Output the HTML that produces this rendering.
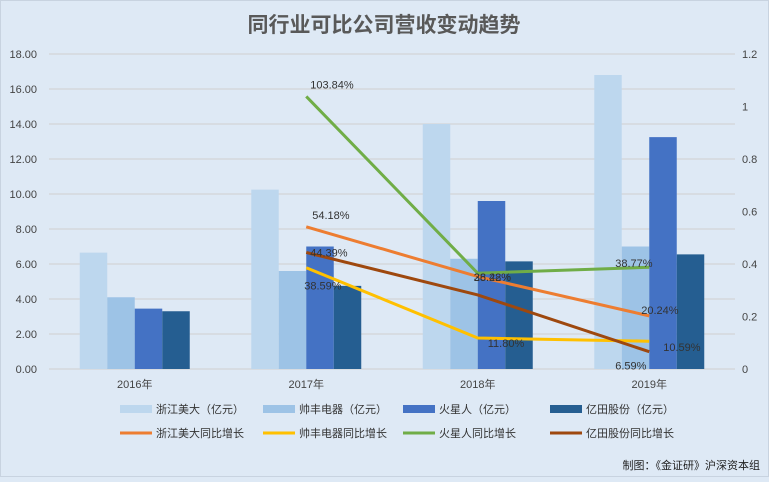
<!DOCTYPE html>
<html><head><meta charset="utf-8"><style>
body{margin:0;width:769px;height:477px;background:#dee9f5;font-family:"Liberation Sans","Noto Sans CJK SC",sans-serif;overflow:hidden}
svg text{font-family:"Liberation Sans","Noto Sans CJK SC",sans-serif}
</style></head><body>
<svg id="c" width="769" height="477">
<rect x="0.5" y="0.5" width="768" height="476" fill="#dee9f5" stroke="#c8d3e0"/>
<text x="384" y="32" text-anchor="middle" font-size="21" font-weight="bold" fill="#595959">同行业可比公司营收变动趋势</text>
<g id="grid"></g><g id="bars"></g><g id="lines"></g><g id="legend"></g>
<text x="760" y="469" text-anchor="end" font-size="11" fill="#222">制图：《金证研》沪深资本组</text>
</svg>
<script>
const categories=["2016年","2017年","2018年","2019年"];
const barNames=["浙江美大（亿元）","帅丰电器（亿元）","火星人（亿元）","亿田股份（亿元）"];
const barColors=["#bdd7ee","#9dc3e6","#4472c4","#255e91"];
const zjmd=[6.65,10.25,14.0,16.8];
const sfdq=[4.1,5.6,6.3,7.0];
const hxr=[3.45,7.0,9.6,13.25];
const ytgf=[3.3,4.75,6.15,6.55];
const lineNames=["浙江美大同比增长","帅丰电器同比增长","火星人同比增长","亿田股份同比增长"];
const lineColors=["#ed7d31","#ffc000","#70ad47","#9e480e"];
const zjmdG=[null,0.5418,0.352,0.2024];
const sfdqG=[null,0.3859,0.1180,0.1059];
const hxrG=[null,1.0384,0.3648,0.3877];
const ytgfG=[null,0.4439,0.2822,0.0659];
const leftTicks=["0.00","2.00","4.00","6.00","8.00","10.00","12.00","14.00","16.00","18.00"];
const rightTicks=["0","0.2","0.4","0.6","0.8","1","1.2"];
const NS="http://www.w3.org/2000/svg";
const L=49,R=735,T=54,B=369;
const yL=v=>B-(v/18)*(B-T), yR=v=>B-(v/1.2)*(B-T);
const cw=(R-L)/categories.length, bw=27.5;
const xc=i=>L+cw*(i+0.5);
function mk(tag,at,p){const e=document.createElementNS(NS,tag);for(const k in at)e.setAttribute(k,at[k]);p.appendChild(e);return e;}
const g=document.getElementById('grid');
leftTicks.forEach((t,i)=>{const y=yL(i*2);
 const ln=mk('line',{x1:L,x2:R,y1:y,y2:y,stroke:'#d0d0d0','stroke-width':1},g);
 
 
 const tx=mk('text',{x:37,y:y+4,'text-anchor':'end','font-size':11,fill:'#444'},g);tx.textContent=t;
 
 });
rightTicks.forEach((t,i)=>{const y=yR(i*0.2);
 const tx=mk('text',{x:742,y:y+4,'font-size':11,fill:'#444'},g);tx.textContent=t;
 
 });
categories.forEach((c,i)=>{const tx=mk('text',{x:xc(i),y:388,'text-anchor':'middle','font-size':11,fill:'#444'},g);tx.textContent=c;
 
 });
const bg=document.getElementById('bars');
[zjmd,sfdq,hxr,ytgf].forEach((s,k)=>s.forEach((v,i)=>{
 const x=xc(i)-2*bw+k*bw;
 const r=mk('rect',{x:x,y:yL(v),width:bw,height:B-yL(v),fill:barColors[k]},bg);
 
 }));
const lg=document.getElementById('lines');
const labelOff=[[0,[[6,-12],[0,0],[-8,-6]]],[1,[[-2,18],[10,5],[14,6]]],[2,[[4,-12],[-4,4],[-34,-4]]],[3,[[4,0],[-4,-18],[-34,14]]]];
[zjmdG,sfdqG,hxrG,ytgfG].forEach((s,k)=>{
 let pts=[];s.forEach((v,i)=>{if(v!==null)pts.push([xc(i),yR(v),v]);});
 const pl=mk('polyline',{points:pts.map(p=>p[0]+','+p[1]).join(' '),fill:'none',stroke:lineColors[k],'stroke-width':3},lg);
 
 
 pts.forEach((p,j)=>{const o=labelOff[k][1][j];
  if(k===0&&j===1)return;
  const tx=mk('text',{x:p[0]+o[0],y:p[1]+o[1]+4,'font-size':11,fill:'#333'},lg);tx.textContent=(p[2]*100).toFixed(2)+'%';
  
  });
});
const lgd=document.getElementById('legend');
const lx=[120,263,403,550];
barNames.forEach((n,k)=>{const r=mk('rect',{x:lx[k],y:405,width:32,height:8,fill:barColors[k]},lgd);
 
 
 const t=mk('text',{x:lx[k]+36,y:413,'font-size':11,fill:'#333'},lgd);t.textContent=n;
 
 });
lineNames.forEach((n,k)=>{const r=mk('line',{x1:lx[k],x2:lx[k]+32,y1:433,y2:433,stroke:lineColors[k],'stroke-width':3},lgd);
 
 
 const t=mk('text',{x:lx[k]+36,y:437,'font-size':11,fill:'#333'},lgd);t.textContent=n;
 
 });
</script>
</body></html>
